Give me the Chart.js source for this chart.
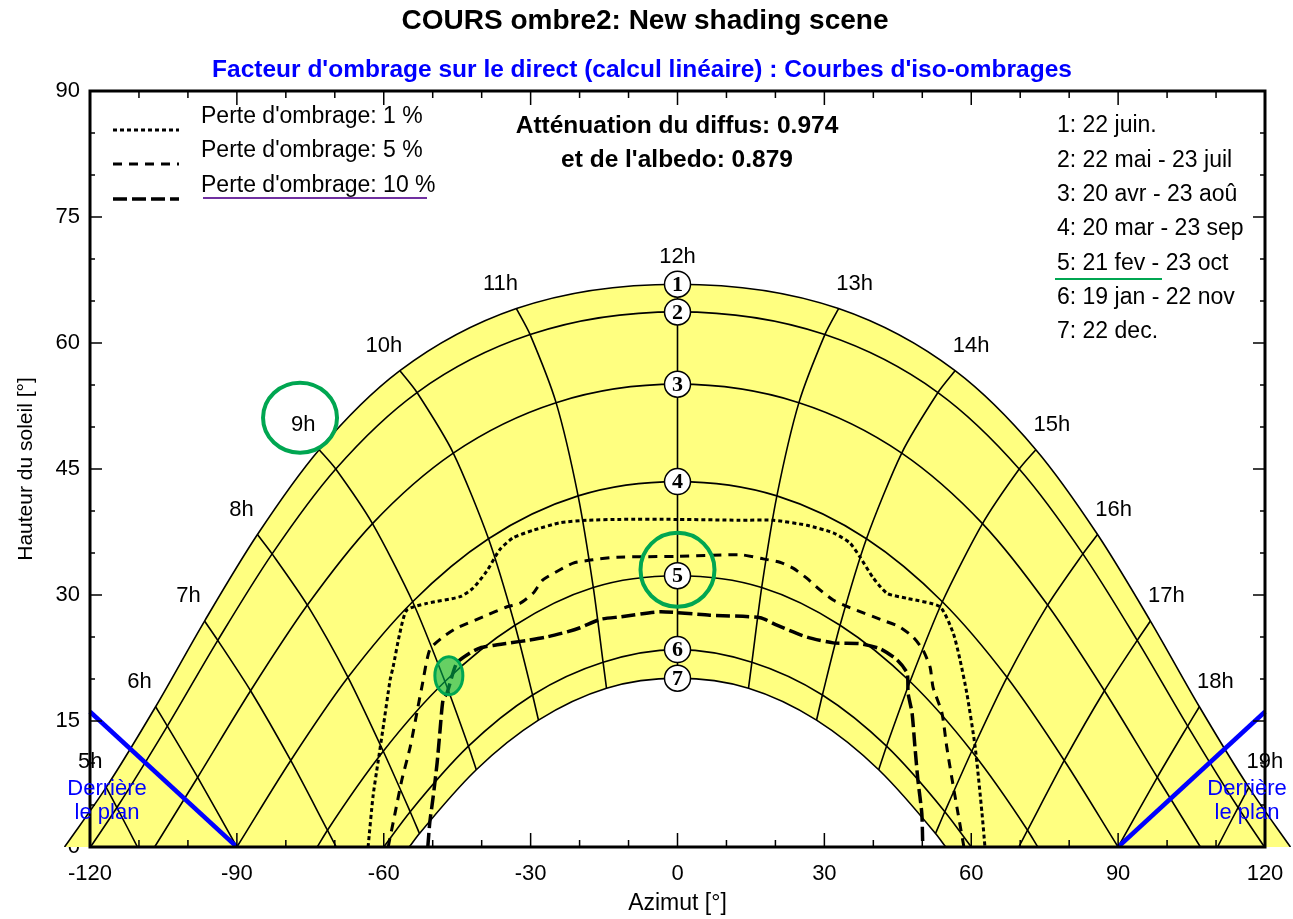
<!DOCTYPE html>
<html lang="fr">
<head>
<meta charset="utf-8">
<title>COURS ombre2: New shading scene</title>
<script src="https://cdn.jsdelivr.net/npm/chart.js@4.4.1/dist/chart.umd.min.js"></script>
<style>
html, body { margin:0; padding:0; background:#fff; overflow:hidden; }
canvas { display:block; }
</style>
</head>
<body>
<canvas id="chart" width="1293" height="919"></canvas>
<script>
// ---------------- DATA ----------------
const titleText = 'COURS ombre2: New shading scene';
const subtitleText = "Facteur d'ombrage sur le direct (calcul linéaire) : Courbes d'iso-ombrages";
const xTitle = 'Azimut [°]';
const yTitle = 'Hauteur du soleil [°]';
const xTickValues = [-120, -90, -60, -30, 0, 30, 60, 90, 120];
const yTickValues = [0, 15, 30, 45, 60, 75, 90];
const lossLabels = ["Perte d'ombrage: 1 %", "Perte d'ombrage: 5 %", "Perte d'ombrage: 10 %"];
const attenuationText = ['Atténuation du diffus: 0.974', "et de l'albedo: 0.879"];
const planeText = ['Derrière', 'le plan'];
const dateLabels = ['1: 22 juin.', '2: 22 mai - 23 juil', '3: 20 avr - 23 aoû', '4: 20 mar - 23 sep',
                    '5: 21 fev - 23 oct', '6: 19 jan - 22 nov', '7: 22 dec.'];
const hourLabels = ['5h','6h','7h','8h','9h','10h','11h','12h','13h','14h','15h','16h','17h','18h','19h'];

// sun position (azimuth, altitude) at each solar hour 5h..19h, per date curve
const date1Az  = [-116.7, -106.6, -96.6, -85.8, -73.2, -56.7, -32.9, 0, 32.9, 56.7, 73.2, 85.8, 96.6, 106.6, 116.7];
const date1Alt = [7.1, 16.7, 26.9, 37.2, 47.3, 56.7, 64.1, 67.0, 64.1, 56.7, 47.3, 37.2, 26.9, 16.7, 7.1];
const date2Az  = [-114.5, -104.2, -93.9, -82.8, -69.8, -53.2, -30.1, 0, 30.1, 53.2, 69.8, 82.8, 93.9, 104.2, 114.5];
const date2Alt = [4.7, 14.4, 24.6, 34.9, 45.0, 54.1, 61.0, 63.7, 61.0, 54.1, 45.0, 34.9, 24.6, 14.4, 4.7];
const date3Az  = [null, -98.0, -87.2, -75.6, -62.3, -45.8, -24.8, 0, 24.8, 45.8, 62.3, 75.6, 87.2, 98.0, null];
const date3Alt = [null, 8.3, 18.6, 28.8, 38.5, 46.9, 52.9, 55.1, 52.9, 46.9, 38.5, 28.8, 18.6, 8.3, null];
const date4Az  = [null, null, -79.0, -67.3, -54.1, -38.6, -20.3, 0, 20.3, 38.6, 54.1, 67.3, 79.0, null, null];
const date4Alt = [null, null, 10.3, 20.2, 29.2, 36.7, 41.8, 43.5, 41.8, 36.7, 29.2, 20.2, 10.3, null, null];
const date5Az  = [null, null, -71.5, -60.1, -47.5, -33.2, -17.2, 0, 17.2, 33.2, 47.5, 60.1, 71.5, null, null];
const date5Alt = [null, null, 2.0, 11.4, 19.7, 26.4, 30.9, 32.3, 30.9, 26.4, 19.7, 11.4, 2.0, null, null];
const date6Az  = [null, null, null, -54.6, -42.7, -29.6, -15.2, 0, 15.2, 29.6, 42.7, 54.6, null, null, null];
const date6Alt = [null, null, null, 4.2, 12.0, 18.1, 22.0, 23.5, 22.0, 18.1, 12.0, 4.2, null, null, null];
const date7Az  = [null, null, null, -52.7, -41.1, -28.4, -14.5, 0, 14.5, 28.4, 41.1, 52.7, null, null, null];
const date7Alt = [null, null, null, 1.6, 9.2, 15.1, 18.9, 20.1, 18.9, 15.1, 9.2, 1.6, null, null, null];
// sunrise / sunset azimuths per date (altitude 0)
const sunriseAz = [-125.2, -119.9, -106.8, -90.0, -73.6, -60.0, -54.8];
const sunsetAz  = [125.2, 119.9, 106.8, 90.0, 73.6, 60.0, 54.8];
// where an hour line meets the horizon (if it does)
const hourEndAz = [-110.3, -90.0, -69.7, null, null, null, null, null, null, null, null, null, 69.7, 90.0, 110.3];

// iso-shading curves
const loss1Az  = [-63.2, -62.2, -61.2, -60.2, -58.7, -58.1, -56.7, -55.3, -51.2, -44.4, -41.8, -39.0, -36.3, -33.6, -29.5, -24.0, -18.5, -11.7, 0, 12.8, 19.6, 26.4, 31.8, 35.2, 37.3, 39.9, 42.8, 46.9, 53.6, 56.3, 57.7, 59.1, 60.8, 62.2, 62.8];
const loss1Alt = [0, 6.0, 10.0, 13.9, 19.9, 21.4, 25.5, 28.2, 29.0, 29.8, 30.8, 32.8, 35.4, 36.8, 37.7, 38.6, 38.9, 39.0, 39.0, 38.9, 38.9, 38.3, 37.4, 36.2, 34.5, 32.1, 30.2, 29.6, 28.6, 25.5, 22.3, 18.3, 11.9, 4.0, 0];
const loss5Az  = [-59.1, -57.7, -56.3, -54.6, -53.0, -52.2, -50.6, -47.9, -45.0, -39.7, -34.8, -32.2, -29.5, -27.5, -24.0, -21.3, -17.3, -12.4, 0, 12.8, 17.5, 20.9, 23.6, 26.4, 29.1, 31.8, 35.2, 41.9, 45.4, 48.1, 50.1, 51.6, 52.2, 54.0, 55.0, 56.1, 57.3, 58.5];
const loss5Alt = [0, 4.0, 8.0, 11.9, 16.7, 19.1, 23.5, 25.0, 26.1, 27.4, 28.6, 29.0, 30.2, 31.8, 33.0, 33.8, 34.2, 34.5, 34.6, 34.8, 34.3, 33.9, 33.2, 32.0, 30.6, 29.4, 28.5, 27.0, 26.2, 25.0, 23.5, 21.4, 19.0, 16.0, 11.9, 8.0, 4.0, 0];
const loss10Az  = [-51.0, -50.6, -49.9, -49.1, -48.5, -47.9, -47.1, -45.1, -42.4, -40.3, -37.7, -34.2, -30.7, -26.7, -22.6, -19.9, -15.8, -11.7, -3.6, 6.6, 16.9, 20.3, 26.4, 31.8, 37.3, 41.4, 44.8, 46.9, 47.1, 47.9, 48.5, 49.1, 49.9, 50.1];
const loss10Alt = [0, 2.9, 6.0, 10.0, 13.9, 17.5, 18.3, 21.9, 23.1, 23.7, 24.0, 24.3, 24.6, 25.0, 25.6, 26.1, 27.1, 27.4, 28.0, 27.6, 27.3, 26.4, 25.0, 24.3, 24.2, 23.6, 22.3, 20.7, 18.3, 16.0, 11.9, 8.0, 4.0, 0];

// "behind the plane" limits
const planeLeftAz  = [-120, -90];
const planeLeftAlt = [16.1, 0];
const planeRightAz  = [90, 120];
const planeRightAlt = [0, 16.1];

// ---------------- BUILD ----------------
const FONT = '"Liberation Sans", Arial, Helvetica, sans-serif';
const dateAz  = [date1Az, date2Az, date3Az, date4Az, date5Az, date6Az, date7Az];
const dateAlt = [date1Alt, date2Alt, date3Alt, date4Alt, date5Alt, date6Alt, date7Alt];
const NOON = hourLabels.indexOf('12h');

function pairs(az, alt) { return az.map((a, i) => ({x: a, y: alt[i]})); }
function datePoints(d) {
  const pts = [{x: sunriseAz[d], y: 0}];
  dateAz[d].forEach((a, i) => { if (a !== null) pts.push({x: a, y: dateAlt[d][i]}); });
  pts.push({x: sunsetAz[d], y: 0});
  return pts;
}
function hourPoints(h) {
  const pts = [];
  for (let d = 0; d < dateAz.length; d++) {
    if (dateAz[d][h] !== null) pts.push({x: dateAz[d][h], y: dateAlt[d][h]});
  }
  if (hourEndAz[h] !== null) pts.push({x: hourEndAz[h], y: 0});
  return pts;
}

const thin = {borderColor: '#000', borderWidth: 1.6, pointRadius: 0, pointHitRadius: 0, fill: false};
const datasets = [];
// 0: date markers at noon
datasets.push({label: 'dates', data: dateAz.map((az, d) => ({x: az[NOON], y: dateAlt[d][NOON]})),
  showLine: false, pointRadius: 13, pointHoverRadius: 13, pointBackgroundColor: '#fff',
  pointBorderColor: '#000', pointBorderWidth: 1.5, fill: false});
// 1,2: plane limits
datasets.push({label: 'planL', data: pairs(planeLeftAz, planeLeftAlt), borderColor: '#0000ff', borderWidth: 4.5, pointRadius: 0, tension: 0, fill: false});
datasets.push({label: 'planR', data: pairs(planeRightAz, planeRightAlt), borderColor: '#0000ff', borderWidth: 4.5, pointRadius: 0, tension: 0, fill: false});
// 3,4,5: iso-shading
datasets.push({label: lossLabels[2], data: pairs(loss10Az, loss10Alt), borderColor: '#000', borderWidth: 3.5, borderDash: [14, 5], pointRadius: 0, tension: 0.2, fill: false});
datasets.push({label: lossLabels[1], data: pairs(loss5Az, loss5Alt), borderColor: '#000', borderWidth: 3, borderDash: [9, 7], pointRadius: 0, tension: 0.2, fill: false});
datasets.push({label: lossLabels[0], data: pairs(loss1Az, loss1Alt), borderColor: '#000', borderWidth: 3, borderDash: [4, 3], pointRadius: 0, tension: 0.2, fill: false});
// hour lines
hourLabels.forEach((h, i) => datasets.push(Object.assign({label: h, data: hourPoints(i), tension: 0.25}, thin)));
// date curves
dateLabels.forEach((l, d) => datasets.push(Object.assign({label: l, data: datePoints(d), cubicInterpolationMode: 'monotone'}, thin)));
// fills: white under the lowest curve, yellow under the highest
datasets.push({label: 'fillLow', data: datePoints(6), borderColor: 'rgba(0,0,0,0)', borderWidth: 1, pointRadius: 0,
  backgroundColor: '#ffffff', fill: 'origin', cubicInterpolationMode: 'monotone'});
datasets.push({label: 'fillHigh', data: datePoints(0), borderColor: 'rgba(0,0,0,0)', borderWidth: 1, pointRadius: 0,
  backgroundColor: '#ffff80', fill: 'origin', cubicInterpolationMode: 'monotone'});

// ---------------- DECORATION PLUGIN ----------------
const GREEN = '#00a651';
function txt(ctx, s, x, y, font, color, align) {
  ctx.font = font; ctx.fillStyle = color; ctx.textAlign = align || 'left'; ctx.textBaseline = 'middle';
  ctx.fillText(s, x, y);
}
const deco = {
  id: 'deco',
  afterDatasetsDraw(chart) {
    const ctx = chart.ctx, xs = chart.scales.x, ys = chart.scales.y;
    const X = v => xs.getPixelForValue(v), Y = v => ys.getPixelForValue(v);
    ctx.save();
    // frame
    const L = X(-120), R = X(120), T = Y(90), B = Y(0);
    ctx.strokeStyle = '#000'; ctx.lineWidth = 3; ctx.setLineDash([]);
    ctx.strokeRect(L, T, R - L, B - T);
    ctx.lineWidth = 1.5;
    ctx.beginPath();
    for (let v = -110; v < 120; v += 10) {
      const len = (v % 30 === 0) ? 14 : 7, px = X(v);
      ctx.moveTo(px, B); ctx.lineTo(px, B - len);
      ctx.moveTo(px, T); ctx.lineTo(px, T + len);
    }
    for (let v = 5; v < 90; v += 5) {
      const len = (v % 15 === 0) ? 12 : 5, py = Y(v);
      ctx.moveTo(L, py); ctx.lineTo(L + len, py);
      ctx.moveTo(R, py); ctx.lineTo(R - len, py);
    }
    ctx.stroke();
    // date marker numbers
    const meta = chart.getDatasetMeta(0);
    meta.data.forEach((p, i) => txt(ctx, dateLabels[i].split(':')[0], p.x, p.y + 1,
      'bold 22px "Liberation Serif", "DejaVu Serif", serif', '#000', 'center'));
    // hour labels near the highest curve
    hourLabels.forEach((lab, i) => {
      const s = Math.sign(date1Az[i]);
      txt(ctx, lab, X(date1Az[i]) + s * 16, Y(date1Alt[i]) - (s === 0 ? 27 : 25), '22px ' + FONT, '#000', 'center');
    });
    ctx.restore();
  },
  afterDraw(chart) {
    const ctx = chart.ctx, xs = chart.scales.x, ys = chart.scales.y;
    const X = v => xs.getPixelForValue(v), Y = v => ys.getPixelForValue(v);
    ctx.save();
    txt(ctx, titleText, 645, 21, 'bold 28px ' + FONT, '#000', 'center');
    txt(ctx, subtitleText, 642, 70, 'bold 24.5px ' + FONT, '#0000ff', 'center');
    // loss legend
    const legendIdx = [5, 4, 3];
    const ly = [117, 151, 186];
    legendIdx.forEach((di, k) => {
      const ds = chart.data.datasets[di];
      ctx.strokeStyle = '#000'; ctx.lineWidth = ds.borderWidth; ctx.setLineDash(ds.borderDash);
      ctx.beginPath(); ctx.moveTo(113, ly[k] + 13); ctx.lineTo(179, ly[k] + 13); ctx.stroke();
      ctx.setLineDash([]);
      txt(ctx, lossLabels[k], 201, ly[k], '23px ' + FONT, '#000', 'left');
    });
    ctx.strokeStyle = '#7030a0'; ctx.lineWidth = 2;
    ctx.beginPath(); ctx.moveTo(203, 198); ctx.lineTo(427, 198); ctx.stroke();
    // attenuation
    txt(ctx, attenuationText[0], 677, 126, 'bold 24.5px ' + FONT, '#000', 'center');
    txt(ctx, attenuationText[1], 677, 160, 'bold 24.5px ' + FONT, '#000', 'center');
    // date legend
    dateLabels.forEach((l, i) => txt(ctx, l, 1057, 126 + i * 34.3, '23px ' + FONT, '#000', 'left'));
    ctx.strokeStyle = GREEN; ctx.lineWidth = 2;
    ctx.beginPath(); ctx.moveTo(1055, 279); ctx.lineTo(1162, 279); ctx.stroke();
    // behind plane labels
    [[107], [1247]].forEach(([cx]) => {
      txt(ctx, planeText[0], cx, 789, '22px ' + FONT, '#0000ff', 'center');
      txt(ctx, planeText[1], cx, 813, '22px ' + FONT, '#0000ff', 'center');
    });
    // green annotations
    ctx.strokeStyle = GREEN; ctx.lineWidth = 4;
    ctx.beginPath(); ctx.ellipse(X(-77.1), Y(51.1), 37, 35, 0, 0, Math.PI * 2); ctx.stroke();
    ctx.beginPath(); ctx.ellipse(X(0), Y(33.0), 37, 37, 0, 0, Math.PI * 2); ctx.stroke();
    ctx.fillStyle = 'rgba(0,176,80,0.6)'; ctx.lineWidth = 3;
    ctx.beginPath(); ctx.ellipse(X(-46.7), Y(20.4), 14, 19, 0, 0, Math.PI * 2); ctx.fill(); ctx.stroke();
    ctx.restore();
  }
};

// ---------------- CHART ----------------
new Chart(document.getElementById('chart'), {
  type: 'line',
  data: {datasets},
  plugins: [deco],
  options: {
    responsive: false, animation: false, events: [],
    layout: {padding: {top: 91, left: 0, right: 0, bottom: 0}, autoPadding: false},
    plugins: {legend: {display: false}, tooltip: {enabled: false}, filler: {drawTime: 'beforeDatasetsDraw'}},
    scales: {
      x: {
        type: 'linear', min: -125.72, max: 125.72,
        afterBuildTicks: s => { s.ticks = xTickValues.map(v => ({value: v})); },
        afterFit: s => { s.height = 72; s.paddingLeft = 0; s.paddingRight = 0; },
        grid: {display: false, drawTicks: false}, border: {display: false},
        ticks: {font: {family: FONT, size: 22}, color: '#000', padding: 14, maxRotation: 0, autoSkip: false, callback: v => String(v)},
        title: {display: true, text: xTitle, font: {family: FONT, size: 23}, color: '#000', padding: {top: 0, bottom: 2}}
      },
      y: {
        type: 'linear', min: 0, max: 90, z: 1,
        afterBuildTicks: s => { s.ticks = yTickValues.map(v => ({value: v})); },
        afterFit: s => { s.width = 62; s.paddingTop = 0; s.paddingBottom = 0; },
        grid: {display: false, drawTicks: false}, border: {display: false},
        ticks: {font: {family: FONT, size: 22}, color: '#000', mirror: true, crossAlign: 'far', padding: -6.5, autoSkip: false, callback: v => String(v)},
        title: {display: true, text: yTitle, font: {family: FONT, size: 21}, color: '#000', padding: {top: 14, bottom: 0}}
      }
    }
  }
});
</script>
</body>
</html>
